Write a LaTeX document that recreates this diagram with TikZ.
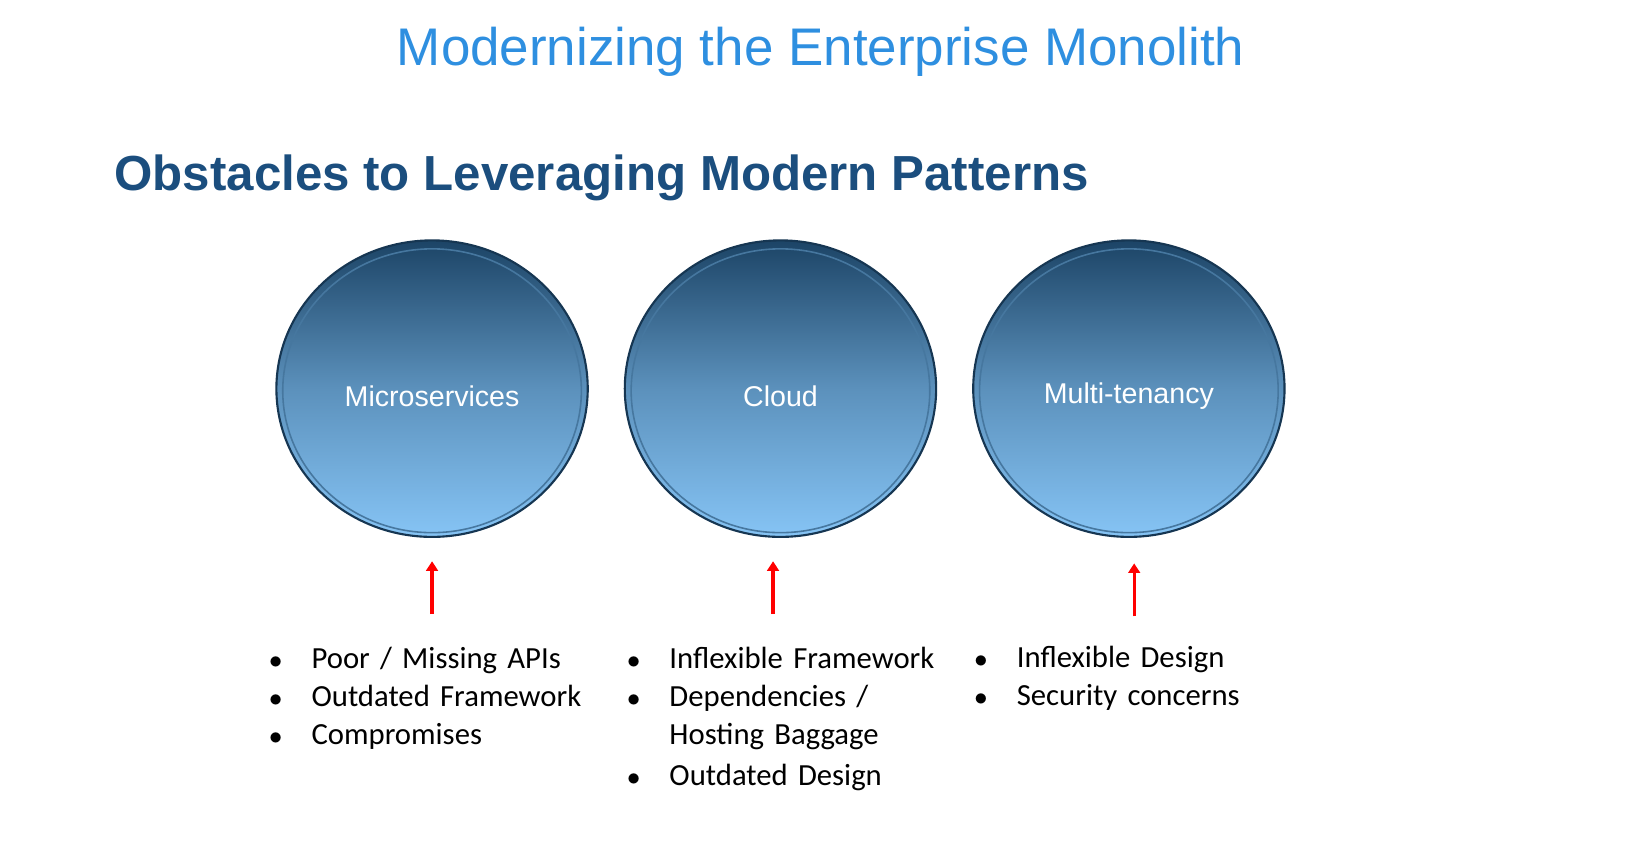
\documentclass[tikz,border=0pt]{standalone}
\usepackage{fontspec}
\setmainfont{Liberation Sans}
\newfontfamily\calfont{Carlito}
\usetikzlibrary{shapes.geometric,arrows.meta}
\definecolor{ttl}{HTML}{2E8FE0}
\definecolor{hd}{HTML}{1B4E7E}
\definecolor{ctop}{HTML}{1C4466}
\definecolor{cbot}{HTML}{86C4F5}
\tikzset{
 bub/.style={ellipse,minimum width=294pt,minimum height=280pt,top color=ctop,bottom color=cbot,middle color=cbot!60!ctop,draw=ctop!80!black,line width=2pt,text=white},
 ring/.style={ellipse,minimum width=282pt,minimum height=268pt,draw=ctop!60!cbot,line width=1.5pt},
 lbl/.style={text=white,font=\fontsize{27}{30}\selectfont},
 up/.style={draw=red,line width=3pt,-{Triangle[length=9pt,width=11pt]}},
 lst/.style={anchor=north west,align=left,font=\calfont\fontsize{29}{36}\selectfont,text width=320pt,inner sep=0pt}
}
\begin{document}
\begin{tikzpicture}[x=1pt,y=-1pt]
\useasboundingbox (0,0) rectangle (1560,810);
\node (t) at (775,49) {\color{ttl}\fontsize{50}{54}\selectfont Modernizing the Enterprise Monolith};
\node[anchor=west,inner sep=0pt] (h) at (108,168) {\color{hd}\bfseries\fontsize{46.5}{50}\selectfont Obstacles to Leveraging Modern Patterns};
\node[bub] (c1) at (408,367) {};
\node[bub] (c2) at (737,367) {};
\node[bub] (c3) at (1066,367) {};
\node[ring] (r1) at (408,369) {};
\node[ring] (r2) at (737,369) {};
\node[ring] (r3) at (1066,369) {};
\node[lbl] (l1) at (408,374) {Microservices};
\node[lbl] (l2) at (737,374) {Cloud};
\node[lbl] (l3) at (1066,374) {Multi-tenancy};
\coordinate (a1) at (408,580); \coordinate (b1) at (408,530);
\coordinate (a2) at (730,580); \coordinate (b2) at (730,530);
\coordinate (a3) at (1071,582); \coordinate (b3) at (1071,532);
\draw[up] (a1) -- (b1);
\draw[up] (a2) -- (b2);
\draw[up] (a3) -- (b3);
\node[lst] (p1) at (254,611) {\makebox[40pt][l]{$\bullet$}Poor / Missing APIs\\\makebox[40pt][l]{$\bullet$}Outdated Framework\\\makebox[40pt][l]{$\bullet$}Compromises};
\node[lst] (p2) at (592,611) {\makebox[40pt][l]{$\bullet$}Inflexible Framework\\\makebox[40pt][l]{$\bullet$}Dependencies /\\\makebox[40pt][l]{}Hosting Baggage\\[2pt]\makebox[40pt][l]{$\bullet$}Outdated Design};
\node[lst] (p3) at (920,610) {\makebox[40pt][l]{$\bullet$}Inflexible Design\\\makebox[40pt][l]{$\bullet$}Security concerns};
\end{tikzpicture}
\end{document}
